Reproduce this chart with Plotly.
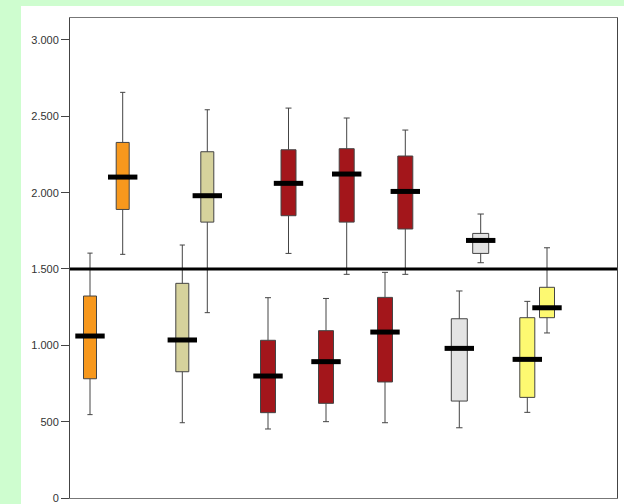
import plotly.graph_objects as go

# Box statistics (low/high pairs per group)
names = ["A low", "A high", "B low", "B high", "C1 low", "C1 high", "C2 low", "C2 high",
         "C3 low", "C3 high", "D low", "D high", "E low", "E high"]
lower = [546, 1596, 493, 1214, 452, 1602, 500, 1465, 493, 1465, 460, 1541, 561, 1081]
q1 = [781, 1890, 827, 1807, 559, 1849, 620, 1807, 760, 1762, 635, 1602, 659, 1181]
median = [1061, 2102, 1035, 1980, 799, 2061, 893, 2122, 1087, 2008, 980, 1687, 908, 1246]
q3 = [1323, 2329, 1406, 2268, 1033, 2281, 1096, 2288, 1314, 2240, 1174, 1733, 1181, 1380]
upper = [1604, 2657, 1657, 2543, 1312, 2554, 1307, 2489, 1478, 2410, 1356, 1860, 1288, 1639]
threshold = 1500

# layout: positions (axis units) and fill colours
positions = [20, 52.7, 112.3, 137.3, 198, 218.5, 256, 276.7, 315, 335.3, 389.3, 410.7, 457.3, 477]
widths = [13, 13, 13, 13, 15, 15, 15, 15, 15, 15, 16, 16, 15, 15]
colors = ["#F7981D", "#F7981D", "#D6D29C", "#D6D29C", "#A3161B", "#A3161B", "#A3161B", "#A3161B",
          "#A3161B", "#A3161B", "#E3E3E3", "#E3E3E3", "#FDF971", "#FDF971"]

fig = go.Figure()
for i in range(len(names)):
    fig.add_trace(go.Box(
        x=[positions[i]], q1=[q1[i]], median=[median[i]], q3=[q3[i]],
        lowerfence=[lower[i]], upperfence=[upper[i]],
        width=widths[i], whiskerwidth=0.4,
        fillcolor=colors[i], line=dict(color="#444444", width=1),
        name=names[i], showlegend=False, hoverinfo="skip", boxpoints=False,
    ))

fig.add_trace(go.Scatter(
    x=positions, y=median, mode="markers",
    marker=dict(symbol="line-ew-open", size=21, color="black", line=dict(color="black", width=5)),
    showlegend=False, hoverinfo="skip",
))

fig.add_hline(y=threshold, line=dict(color="black", width=3), layer="above")

# white panel behind the chart
fig.add_shape(type="rect", xref="paper", yref="paper",
              x0=-0.0896, x1=1.02, y0=-0.02, y1=1.025,
              fillcolor="white", line=dict(width=0), layer="below")

fig.update_layout(
    width=624, height=504,
    margin=dict(l=70, r=7, t=18, b=6),
    paper_bgcolor="#CEFDCF", plot_bgcolor="white",
    separators=",.",
    font=dict(family="Liberation Sans, Arial, sans-serif", size=11, color="#333333"),
    xaxis=dict(range=[0, 547], showticklabels=False, ticks="", showgrid=False, zeroline=False,
               showline=True, linecolor="#777777", linewidth=1, mirror=True, automargin=False),
    yaxis=dict(range=[0, 3144], tickvals=[0, 500, 1000, 1500, 2000, 2500, 3000], tickformat=",d",
               ticks="outside", ticklen=8, tickcolor="#444444", showgrid=False, zeroline=False,
               showline=True, linecolor="#444444", linewidth=1, mirror=True, automargin=False),
)

fig.write_html("out.html", config={"displayModeBar": False},
               post_script="document.body.style.margin='0';document.body.style.overflow='hidden';")
